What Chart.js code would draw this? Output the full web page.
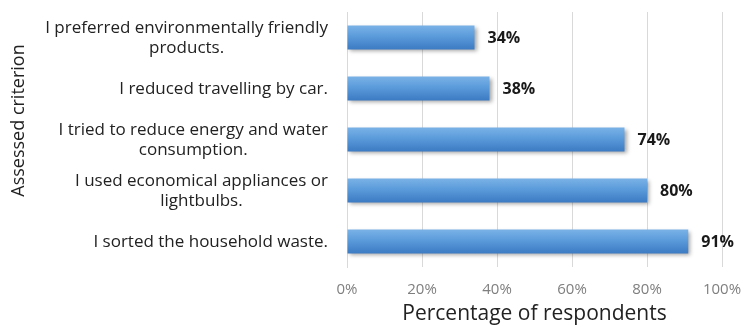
<!DOCTYPE html>
<html><head><meta charset="utf-8">
<script src="https://cdn.jsdelivr.net/npm/chart.js@4.4.0/dist/chart.umd.min.js"></script>
<style>html,body{margin:0;padding:0;background:#fff;}#wrap{width:744px;height:329px;}</style>
</head><body><div id="wrap"><canvas id="c" width="744" height="329"></canvas></div>
<script>
const categories = [
  ["I preferred environmentally friendly", "products."],
  ["I reduced travelling by car."],
  ["I tried to reduce energy and water", "consumption."],
  ["I used economical appliances or", "lightbulbs."],
  ["I sorted the household waste."]
];
const values = [34, 38, 74, 80, 91];
const xTicks = [0, 20, 40, 60, 80, 100];
const yTitle = "Assessed criterion";
const xTitle = "Percentage of respondents";

const FONT = "'Open Sans', Lato, sans-serif";
const BAR_FRAC = 0.47;

const catLabelPlugin = {
  id: 'catLabels',
  afterDraw(chart) {
    const ctx = chart.ctx, y = chart.scales.y;
    ctx.save();
    ctx.font = "17px " + FONT;
    ctx.fillStyle = "#222";
    ctx.textBaseline = "middle";
    ctx.textAlign = "center";
    const right = y.right - 19, lh = 20;
    categories.forEach((lines, i) => {
      const cy = y.getPixelForTick(i);
      const w = Math.max(...lines.map(l => ctx.measureText(l).width));
      const cx = right - w / 2;
      const y0 = cy + 1 - (lines.length - 1) * lh / 2;
      lines.forEach((l, k) => ctx.fillText(l, cx, y0 + k * lh));
    });
    // y axis title
    ctx.font = "18px " + FONT;
    ctx.translate(19, (y.top + y.bottom) / 2 - 19);
    ctx.rotate(-Math.PI / 2);
    ctx.fillText(yTitle, 0, 0);
    ctx.restore();
  }
};
const valueLabelPlugin = {
  id: 'valLabels',
  afterDatasetsDraw(chart) {
    const ctx = chart.ctx, meta = chart.getDatasetMeta(0);
    ctx.save();
    ctx.shadowColor = "transparent";
    ctx.font = "bold 16px " + FONT;
    ctx.fillStyle = "#1a1a1a";
    ctx.textBaseline = "middle";
    ctx.textAlign = "left";
    meta.data.forEach((el, i) => ctx.fillText(values[i] + "%", el.x + 13, el.y + 1));
    ctx.restore();
  }
};
const shadowPlugin = {
  id: 'shadow',
  beforeDatasetsDraw(chart) {
    const ctx = chart.ctx;
    ctx.save();
    ctx.shadowColor = "rgba(0,0,0,0.35)";
    ctx.shadowBlur = 4;
    ctx.shadowOffsetX = 2;
    ctx.shadowOffsetY = 2;
  },
  afterDatasetsDraw(chart) { chart.ctx.restore(); }
};

new Chart(document.getElementById('c'), {
  type: 'bar',
  data: {
    labels: categories,
    datasets: [{
      data: values,
      backgroundColor: (c) => {
        const chart = c.chart, y = chart.scales.y;
        if (!y || c.dataIndex === undefined) return "#5b9bd5";
        const band = (y.bottom - y.top) / categories.length;
        const cy = y.getPixelForValue(c.dataIndex);
        const h = band * BAR_FRAC / 2;
        if (!isFinite(cy) || !isFinite(h) || h <= 0) return "#5b9bd5";
        const g = chart.ctx.createLinearGradient(0, cy - h, 0, cy + h);
        g.addColorStop(0, "#7ab2e6");
        g.addColorStop(0.45, "#5b9bdb");
        g.addColorStop(1, "#3c7ac2");
        return g;
      },
      borderWidth: 0,
      barPercentage: BAR_FRAC,
      categoryPercentage: 1.0
    }]
  },
  options: {
    indexAxis: 'y',
    responsive: false,
    animation: false,
    devicePixelRatio: 1,
    layout: { padding: { top: 12, right: 22, left: 6, bottom: 2 } },
    plugins: { legend: { display: false }, tooltip: { enabled: false } },
    scales: {
      x: {
        min: 0, max: 100,
        afterBuildTicks: (s) => { s.ticks = xTicks.map(v => ({ value: v })); },
        ticks: { callback: v => v + "%", color: "#7f7f7f", font: { family: FONT, size: 15 }, padding: 14 },
        grid: { color: "#d9d9d9", drawTicks: false },
        border: { display: false },
        title: { display: true, text: xTitle, color: "#222", font: { family: FONT, size: 21 }, padding: { top: 0, bottom: 0 } },
        afterFit: (s) => { s.height = 60; s.paddingLeft = 0; s.paddingRight = 0; }
      },
      y: {
        ticks: { display: false },
        grid: { display: false, drawTicks: false },
        border: { display: true, color: "#d9d9d9" },
        title: { display: false },
        afterFit: (s) => { s.width = 341; }
      }
    }
  },
  plugins: [shadowPlugin, valueLabelPlugin, catLabelPlugin]
});
</script></body></html>
